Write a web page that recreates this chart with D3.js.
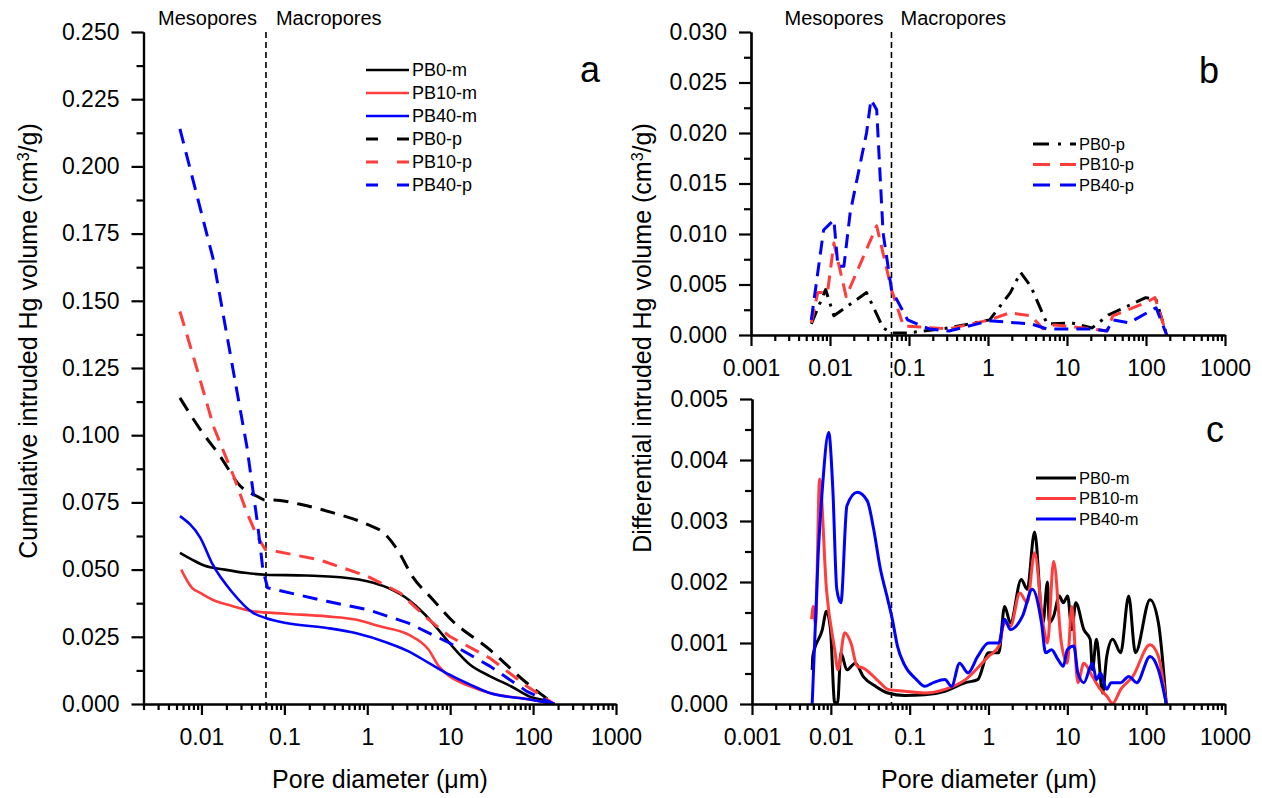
<!DOCTYPE html>
<meta charset="utf-8">

<head>
    <title>Mercury intrusion porosimetry</title>
</head>

<style>
    * {
        font-family: 'Liberation Sans', Arial, sans-serif;
    }

    body {
        margin: 0;
        background: #fff;
    }

    .axis path,
    .axis line {
        stroke: #000;
        stroke-width: 2.2;
    }

    .axis text {
        font-size: 23px;
        fill: #000;
    }

    .title {
        font-size: 25px;
        text-anchor: middle;
    }

    .region {
        font-size: 20px;
    }

    .panel_label {
        font-size: 36px;
    }

    .series {
        fill: none;
    }
</style>

<body>
    <svg id="chart" width="1262" height="798"></svg>

    <script src="https://d3js.org/d3.v7.min.js"></script>
    <script>
        // ---- data (pore diameter in um, volume in cm3/g) ----
        // panel a: cumulative intruded volume
        const PB0_m_cum = [[0.0055, 0.0562], [0.0077, 0.0537], [0.0108, 0.0515], [0.0191, 0.0500], [0.0336, 0.0488], [0.0594, 0.0481], [0.184, 0.0478], [0.57, 0.0469], [1.0, 0.0457], [1.78, 0.0432], [3.15, 0.0388], [4.96, 0.0333], [6.9, 0.0283], [9.8, 0.0227], [17.4, 0.0146], [30.4, 0.0103], [54, 0.0066], [95, 0.0025], [140, 0.0013], [180, 0]];
        const PB10_m_cum = [[0.0057, 0.0500], [0.0077, 0.0432], [0.0097, 0.0413], [0.0136, 0.0388], [0.0239, 0.0364], [0.042, 0.0345], [0.105, 0.0336], [0.325, 0.0326], [0.72, 0.0314], [1.42, 0.0289], [3.15, 0.0258], [5.5, 0.0202], [7.3, 0.0140], [9.8, 0.0103], [17.4, 0.0066], [30, 0.0041], [95, 0.0016], [180, 0]];
        const PB40_m_cum = [[0.0055, 0.0699], [0.0097, 0.0618], [0.0136, 0.0520], [0.0239, 0.0413], [0.042, 0.0339], [0.0594, 0.0320], [0.105, 0.0301], [0.325, 0.0283], [0.72, 0.0264], [1.78, 0.0227], [3.15, 0.0196], [5.5, 0.0153], [9.8, 0.0109], [17.4, 0.0072], [30, 0.0041], [95, 0.0016], [180, 0]];
        const PB0_p_cum = [[0.0055, 0.1139], [0.0097, 0.1021], [0.0168, 0.0922], [0.0294, 0.0811], [0.0467, 0.0773], [0.059, 0.0759], [0.074, 0.0759], [0.155, 0.0743], [0.39, 0.0711], [1.0, 0.0668], [1.6, 0.0635], [2.3, 0.0575], [3.5, 0.0475], [6.2, 0.0388], [9.8, 0.0320], [30, 0.0202], [84, 0.0078], [180, 0]];
        const PB10_p_cum = [[0.0055, 0.1460], [0.008, 0.1292], [0.014, 0.1032], [0.0244, 0.0848], [0.0353, 0.0712], [0.0467, 0.0625], [0.059, 0.0575], [0.063, 0.0574], [0.26, 0.0537], [1.01, 0.0475], [2.5, 0.0413], [4.95, 0.0326], [9.8, 0.0252], [30, 0.0171], [84, 0.0066], [180, 0]];
        const PB40_p_cum = [[0.0055, 0.2140], [0.014, 0.1650], [0.0222, 0.1304], [0.0353, 0.0958], [0.0467, 0.0687], [0.0512, 0.0588], [0.055, 0.0500], [0.0628, 0.0432], [0.325, 0.0382], [1.01, 0.0351], [3.14, 0.0301], [9.8, 0.0227], [30.4, 0.0140], [84, 0.0047], [180, 0]];

        // panel b: differential volume, p samples
        const PB0_p_diff = [[0.0058, 0.0011], [0.0088, 0.0045], [0.0112, 0.0019], [0.029, 0.0042], [0.047, 0.0007], [0.06, 0.0002], [0.096, 0.0002], [0.32, 0.0007], [1.05, 0.0015], [1.92, 0.0042], [2.59, 0.0062], [3.49, 0.0048], [5.6, 0.0011], [11.5, 0.0012], [20.8, 0.0007], [33.7, 0.0020], [99, 0.0037], [134, 0.0035], [183, 0]];
        const PB10_p_diff = [[0.0058, 0.0012], [0.0070, 0.0042], [0.0093, 0.0042], [0.0112, 0.0091], [0.016, 0.0038], [0.039, 0.0108], [0.06, 0.0045], [0.085, 0.0009], [0.32, 0.0006], [1.05, 0.0015], [1.9, 0.0022], [3.5, 0.0019], [5.0, 0.0006], [7.0, 0.0010], [21, 0.0006], [32, 0.0004], [38, 0.0019], [99, 0.0032], [130, 0.0037], [183, 0]];
        const PB40_p_diff = [[0.0058, 0.0015], [0.0083, 0.0104], [0.0112, 0.0114], [0.0126, 0.0068], [0.015, 0.0068], [0.018, 0.0121], [0.029, 0.0200], [0.033, 0.0233], [0.039, 0.0223], [0.047, 0.0101], [0.06, 0.0045], [0.096, 0.0015], [0.18, 0.0006], [0.32, 0.0004], [1.05, 0.0014], [3.5, 0.0011], [5.6, 0.0006], [21, 0.0006], [32, 0.0004], [38, 0.0015], [61, 0.0012], [134, 0.0027], [183, 0]];

        // panel c: differential volume, m samples
        const PB0_m_diff = [[0.0058, 0.00056], [0.0059, 0.00078], [0.0078, 0.00122], [0.0088, 0.00152], [0.0099, 0.00122], [0.0112, 0.00002], [0.0122, 0.00002], [0.0134, 0.00084], [0.016, 0.00056], [0.0204, 0.00067], [0.0258, 0.00045], [0.037, 0.00029], [0.053, 0.00018], [0.086, 0.00014], [0.155, 0.00015], [0.28, 0.00021], [0.51, 0.00035], [0.73, 0.00040], [1.0, 0.00084], [1.35, 0.00084], [1.6, 0.00160], [1.9, 0.00133], [2.6, 0.00204], [3.1, 0.00188], [3.84, 0.00282], [4.9, 0.00133], [5.6, 0.00200], [5.9, 0.00133], [6.7, 0.00144], [7.9, 0.00177], [8.9, 0.00166], [10.1, 0.00177], [11.4, 0.00122], [12.8, 0.00166], [16.2, 0.00122], [19.5, 0.00106], [20.8, 0.00056], [23.4, 0.00106], [28, 0.00018], [31.6, 0.00078], [37.6, 0.00106], [47.5, 0.00084], [60, 0.00177], [73, 0.00084], [112, 0.00171], [143, 0.00133], [180, 0]];
        const PB10_m_diff = [[0.0057, 0.00139], [0.0060, 0.00160], [0.0064, 0.00130], [0.0072, 0.00369], [0.0088, 0.00188], [0.0112, 0.00089], [0.0123, 0.00056], [0.015, 0.00117], [0.018, 0.00100], [0.0216, 0.00062], [0.0258, 0.00059], [0.042, 0.00035], [0.053, 0.00024], [0.086, 0.00021], [0.155, 0.00018], [0.28, 0.00024], [0.51, 0.00040], [1.0, 0.00078], [1.35, 0.00095], [1.6, 0.00133], [1.9, 0.00128], [2.5, 0.00182], [3.1, 0.00166], [3.84, 0.00248], [4.9, 0.00133], [5.6, 0.00100], [6.7, 0.00234], [8.4, 0.00100], [10, 0.00067], [11.4, 0.00160], [13.6, 0.00035], [16.2, 0.00067], [20.8, 0.00045], [26.3, 0.00024], [31.6, 0.00013], [37.6, 0.00001], [47.5, 0.00024], [67.5, 0.00045], [112, 0.00097], [143, 0.00078], [180, 0]];
        const PB40_m_diff = [[0.0058, 0], [0.0069, 0.00243], [0.0078, 0.00352], [0.0094, 0.00445], [0.0106, 0.00352], [0.0119, 0.00188], [0.0134, 0.00166], [0.016, 0.00325], [0.0216, 0.00347], [0.029, 0.00333], [0.035, 0.00286], [0.042, 0.00225], [0.053, 0.00170], [0.06, 0.00140], [0.07, 0.00095], [0.086, 0.00064], [0.122, 0.00040], [0.155, 0.00029], [0.2, 0.00035], [0.28, 0.00040], [0.34, 0.00029], [0.43, 0.00067], [0.55, 0.00051], [0.73, 0.00078], [1.0, 0.00100], [1.35, 0.00100], [1.6, 0.00139], [1.9, 0.00122], [2.7, 0.00144], [3.6, 0.00188], [4.7, 0.00133], [5.3, 0.00084], [6.3, 0.00089], [7.6, 0.00073], [8.9, 0.00062], [10, 0.00089], [12.1, 0.00095], [13.6, 0.00051], [16.2, 0.00035], [20.8, 0.00067], [23.4, 0.00040], [26.3, 0.00051], [31.6, 0.00024], [36, 0.00035], [47.5, 0.00035], [60, 0.00045], [76, 0.00035], [112, 0.00078], [143, 0.00056], [180, 0]];

        const boundary = 0.06; // meso / macro limit, um
        const decades = [0.001, 0.01, 0.1, 1, 10, 100, 1000];

        const black = "#000000";
        const red = "#ff3d3d";
        const blue = "#0000ff";

        const chart = d3.select("#chart");

        // ---- scales ----
        const xA = d3.scaleLog().domain([0.002, 1000]).range([143.5, 616]);
        const yA = d3.scaleLinear().domain([0, 0.25]).range([704, 32]);
        const xB = d3.scaleLog().domain([0.001, 1000]).range([751, 1225]);
        const yB = d3.scaleLinear().domain([0, 0.03]).range([335, 32]);
        const xC = d3.scaleLog().domain([0.001, 1000]).range([752, 1225]);
        const yC = d3.scaleLinear().domain([0, 0.005]).range([704, 399]);

        function minorLogTicks(scale) {
            const [lo, hi] = scale.domain();
            const out = [];
            decades.forEach(d => {
                for (let k = 2; k <= 9; k++) {
                    const v = +(d * k).toPrecision(3);
                    if (v >= lo * 0.999 && v <= hi) out.push(v);
                }
            });
            return out;
        }

        function drawXAxis(scale, y) {
            const [lo, hi] = scale.domain();
            chart.append("g")
                .attr("class", "axis")
                .attr("transform", "translate(0," + y + ")")
                .call(d3.axisBottom(scale).tickValues(minorLogTicks(scale)).tickSize(6).tickSizeOuter(0).tickFormat(""));
            chart.append("g")
                .attr("class", "axis")
                .attr("transform", "translate(0," + y + ")")
                .call(d3.axisBottom(scale)
                    .tickValues(decades.filter(d => d >= lo && d <= hi))
                    .tickSize(11).tickSizeOuter(0).tickPadding(14)
                    .tickFormat(d3.format("~g")));
        }

        function drawYAxis(scale, x, step) {
            const [lo, hi] = scale.domain();
            const major = d3.range(0, Math.round(hi / step) + 1).map(i => i * step);
            const minor = d3.range(0, Math.round(hi / step)).map(i => (i + 0.5) * step);
            chart.append("g")
                .attr("class", "axis")
                .attr("transform", "translate(" + x + ",0)")
                .call(d3.axisLeft(scale).tickValues(minor).tickSize(7).tickSizeOuter(0).tickFormat(""));
            chart.append("g")
                .attr("class", "axis")
                .attr("transform", "translate(" + x + ",0)")
                .call(d3.axisLeft(scale).tickValues(major).tickSize(12).tickSizeOuter(0).tickPadding(12)
                    .tickFormat(d3.format(".3f")));
        }

        function drawSeries(xs, ys, data, color, dash, width, curve) {
            chart.append("path")
                .datum(data)
                .attr("class", "series")
                .attr("stroke", color)
                .attr("stroke-width", width)
                .attr("stroke-dasharray", dash)
                .attr("stroke-linejoin", "round")
                .attr("d", d3.line().x(d => xs(d[0])).y(d => ys(d[1])).curve(curve));
        }

        function drawLegend(entries, x0, y0, rowH, lineW, fontSize) {
            const g = chart.append("g");
            entries.forEach((e, i) => {
                const y = y0 + i * rowH;
                g.append("line")
                    .attr("x1", x0).attr("x2", x0 + lineW)
                    .attr("y1", y).attr("y2", y)
                    .attr("stroke", e.color)
                    .attr("stroke-width", e.width)
                    .attr("stroke-dasharray", e.dash);
                g.append("text")
                    .attr("x", x0 + lineW + 3)
                    .attr("y", y + fontSize * 0.36)
                    .style("font-size", fontSize + "px")
                    .text(e.name);
            });
        }

        function yTitle(x, y, txt) {
            const t = chart.append("text")
                .attr("class", "title")
                .attr("transform", "translate(" + x + "," + y + ")rotate(-90)");
            t.append("tspan").text(txt + " (cm");
            t.append("tspan").attr("baseline-shift", "super").style("font-size", "16px").text("3");
            t.append("tspan").text("/g)");
        }

        // ---- panel a ----
        chart.append("line")
            .attr("x1", xA(boundary)).attr("x2", xA(boundary))
            .attr("y1", 32).attr("y2", 704)
            .attr("stroke", "#000").attr("stroke-width", 1.6).attr("stroke-dasharray", "6,4");

        drawSeries(xA, yA, PB0_m_cum, black, null, 2.6, d3.curveMonotoneX);
        drawSeries(xA, yA, PB10_m_cum, red, null, 2.6, d3.curveMonotoneX);
        drawSeries(xA, yA, PB40_m_cum, blue, null, 2.6, d3.curveMonotoneX);
        drawSeries(xA, yA, PB0_p_cum, black, "15,9", 3, d3.curveMonotoneX);
        drawSeries(xA, yA, PB10_p_cum, red, "15,9", 3, d3.curveLinear);
        drawSeries(xA, yA, PB40_p_cum, blue, "15,9", 3, d3.curveLinear);

        drawXAxis(xA, 704);
        drawYAxis(yA, 143.5, 0.025);

        drawLegend([
            { name: "PB0-m", color: black, dash: null, width: 2.6 },
            { name: "PB10-m", color: red, dash: null, width: 2.6 },
            { name: "PB40-m", color: blue, dash: null, width: 2.6 },
            { name: "PB0-p", color: black, dash: "12,19", width: 3 },
            { name: "PB10-p", color: red, dash: "12,19", width: 3 },
            { name: "PB40-p", color: blue, dash: "12,19", width: 3 }
        ], 366, 70, 23, 43, 18);

        chart.append("text").attr("class", "region").attr("x", xA(boundary) - 9).attr("y", 25)
            .attr("text-anchor", "end").text("Mesopores");
        chart.append("text").attr("class", "region").attr("x", xA(boundary) + 10).attr("y", 25)
            .text("Macropores");
        chart.append("text").attr("class", "panel_label").attr("x", 580).attr("y", 82).text("a");

        yTitle(37, 341, "Cumulative intruded Hg volume");
        chart.append("text").attr("class", "title").attr("x", 380).attr("y", 788)
            .text("Pore diameter (\u03bcm)");

        // ---- panels b and c ----
        chart.append("line")
            .attr("x1", xB(boundary)).attr("x2", xB(boundary))
            .attr("y1", 32).attr("y2", 704)
            .attr("stroke", "#000").attr("stroke-width", 1.6).attr("stroke-dasharray", "6,4");

        drawSeries(xB, yB, PB0_p_diff, black, "14,7,3,7", 3, d3.curveLinear);
        drawSeries(xB, yB, PB10_p_diff, red, "14,8", 3, d3.curveLinear);
        drawSeries(xB, yB, PB40_p_diff, blue, "14,8", 3, d3.curveLinear);
        drawXAxis(xB, 335);
        drawYAxis(yB, 751, 0.005);

        drawLegend([
            { name: "PB0-p", color: black, dash: "16,9,3,9", width: 3 },
            { name: "PB10-p", color: red, dash: "17,10", width: 3 },
            { name: "PB40-p", color: blue, dash: "17,10", width: 3 }
        ], 1033, 144, 20.5, 43, 16.5);

        chart.append("text").attr("class", "region").attr("x", xB(boundary) - 8).attr("y", 25)
            .attr("text-anchor", "end").text("Mesopores");
        chart.append("text").attr("class", "region").attr("x", xB(boundary) + 9).attr("y", 25)
            .text("Macropores");
        chart.append("text").attr("class", "panel_label").attr("x", 1199).attr("y", 83).text("b");

        drawSeries(xC, yC, PB0_m_diff, black, null, 3, d3.curveMonotoneX);
        drawSeries(xC, yC, PB10_m_diff, red, null, 3, d3.curveMonotoneX);
        drawSeries(xC, yC, PB40_m_diff, blue, null, 3, d3.curveMonotoneX);
        drawXAxis(xC, 704);
        drawYAxis(yC, 752, 0.001);

        drawLegend([
            { name: "PB0-m", color: black, dash: null, width: 3 },
            { name: "PB10-m", color: red, dash: null, width: 3 },
            { name: "PB40-m", color: blue, dash: null, width: 3 }
        ], 1036, 478, 20.5, 40, 16.5);

        chart.append("text").attr("class", "panel_label").attr("x", 1206).attr("y", 442).text("c");

        yTitle(651, 338, "Differential intruded Hg volume");
        chart.append("text").attr("class", "title").attr("x", 989).attr("y", 788)
            .text("Pore diameter (\u03bcm)");
    </script>
</body>

</html>
